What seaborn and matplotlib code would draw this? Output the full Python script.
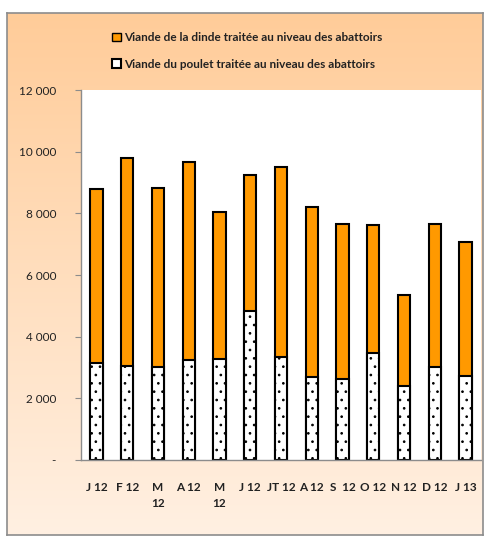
import numpy as np
import pandas as pd
import matplotlib
matplotlib.use("Agg")
import matplotlib.pyplot as plt
import seaborn as sns
from matplotlib.patches import Patch

# === Données (tonnes) ===
mois = ["J 12", "F 12", "M\n12", "A 12", "M\n12", "J 12", "JT 12",
        "A 12", "S  12", "O 12", "N 12", "D 12", "J 13"]
total = [8800, 9785, 8830, 9665, 8054, 9234, 9514,
         8195, 7644, 7622, 5352, 7665, 7060]
poulet = [3156, 3060, 3006, 3233, 3287, 4843, 3352,
          2703, 2638, 3460, 2390, 3027, 2735]
yticks = [0, 2000, 4000, 6000, 8000, 10000, 12000]
ylabels = ["-", "2 000", "4 000", "6 000", "8 000", "10 000", "12 000"]

lab_dinde = "Viande de la dinde traitée au niveau des abattoirs"
lab_poulet = "Viande du poulet traitée au niveau des abattoirs"

df = pd.DataFrame({"pos": range(len(mois)), "total": total, "poulet": poulet})

sns.set_style("white")
plt.rcParams["font.family"] = ["Lato", "DejaVu Sans"]
plt.rcParams["hatch.color"] = "#555555"
plt.rcParams["hatch.linewidth"] = 0.7

fig = plt.figure(figsize=(4.95, 5.4), dpi=100)
fig.patch.set_facecolor("white")

# === Fond dégradé du cadre ===
bg = fig.add_axes([7 / 495, 5 / 540, 476 / 495, 522 / 540], zorder=0)
top_c = np.array([255, 204, 153]) / 255
bot_c = np.array([255, 240, 226]) / 255
t = np.linspace(0, 1, 256)[:, None]
grad = (top_c * (1 - t) + bot_c * t)[:, None, :]
bg.imshow(grad, aspect="auto", extent=[0, 1, 0, 1])
bg.set_xticks([])
bg.set_yticks([])
for s in bg.spines.values():
    s.set_color("#8c8c8c")
    s.set_linewidth(1.2)

ax = fig.add_axes([81 / 495, 80 / 540, 400 / 495, 370 / 540], zorder=1)
ax.set_facecolor("white")

sns.barplot(data=df, x="pos", y="total", color="#FF9900", saturation=1,
            width=0.4, edgecolor="black", linewidth=1.5, ax=ax)
sns.barplot(data=df, x="pos", y="poulet", color="white", saturation=1,
            width=0.4, edgecolor="black", linewidth=1.5, ax=ax)
n = len(mois)
for p in ax.patches[n:]:
    p.set_hatch("..")

ax.set_ylim(0, 12000)
ax.set_xlim(-0.5, n - 0.5)
ax.set_yticks(yticks)
ax.set_yticklabels(ylabels, fontsize=8.5, color="#222222")
ax.set_xticks(range(n))
ax.set_xticklabels(mois, fontsize=8.5, fontweight="bold", color="#222222",
                   va="top", linespacing=1.5)
ax.set_xticks(np.arange(-0.5, n), minor=True)
ax.tick_params(axis="x", which="major", length=0, pad=16)
ax.tick_params(axis="x", which="minor", length=4, color="#8c8c8c", direction="out")
ax.tick_params(axis="y", length=4, color="#8c8c8c", direction="out", pad=14, left=True)
ax.set_xlabel("")
ax.set_ylabel("")
for side in ["top", "right"]:
    ax.spines[side].set_visible(False)
for side in ["left", "bottom"]:
    ax.spines[side].set_color("#8c8c8c")
    ax.spines[side].set_linewidth(1)

handles = [Patch(facecolor="#FF9900", edgecolor="black", label=lab_dinde),
           Patch(facecolor="white", edgecolor="black", linewidth=1.5, label=lab_poulet)]
leg = fig.legend(handles=handles, loc="upper center", bbox_to_anchor=(0.5, 0.96),
                 frameon=False, handlelength=0.7, handleheight=0.7, handletextpad=0.3,
                 labelspacing=1.3, prop={"weight": "bold", "size": 8.5})
for txt in leg.get_texts():
    txt.set_color("#222222")

fig.savefig("out.png", dpi=100)
